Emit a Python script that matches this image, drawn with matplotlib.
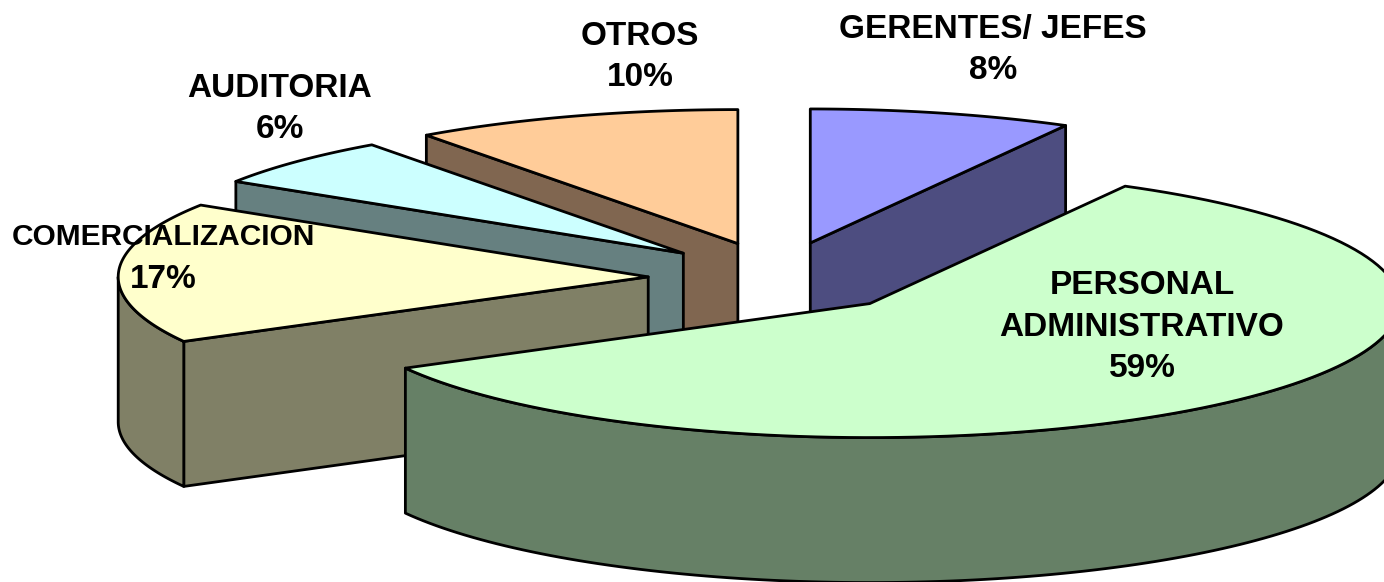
import numpy as np
import matplotlib
matplotlib.use("Agg")
import matplotlib.pyplot as plt
from matplotlib.patches import Polygon

# values in drawing order, back slices first
categories = ["OTROS", "AUDITORIA", "COMERCIALIZACION", "GERENTES/ JEFES", "PERSONAL\nADMINISTRATIVO"]
percents = [10, 6, 17, 8, 59]
# clockwise order of the pie starting at twelve o'clock
pie_order = [3, 4, 2, 1, 0]
top_colors = ["#FFCC99", "#CCFFFF", "#FFFFCC", "#9999FF", "#CCFFCC"]
side_colors = ["#806650", "#668080", "#808066", "#4D4D80", "#668066"]

# pie geometry in pixels
CX, CY = 778, 278
RX, RY = 530, 134
DEPTH = 145
EXPLODE_X = 0.245
EXPLODE_Y = 0.27

plt.rcParams['font.family'] = ['Liberation Sans', 'DejaVu Sans']

fig = plt.figure(figsize=(13.84, 5.82), dpi=100)
ax = fig.add_axes([0, 0, 1, 1])
ax.set_xlim(0, 1384)
ax.set_ylim(582, 0)
ax.axis('off')

# angles measured clockwise from the top
starts = {}
a = 0.0
for i in pie_order:
    starts[i] = a
    a += percents[i] * 3.6


def rim(apex, a0, a1):
    t = np.radians(np.linspace(a0, a1, 120))
    return np.column_stack([apex[0] + RX * np.sin(t), apex[1] - RY * np.cos(t)])


def add(pts, color, z):
    ax.add_patch(Polygon(pts, closed=True, facecolor=color, edgecolor='black',
                         linewidth=2, joinstyle='round', zorder=z))


for i in range(len(percents)):
    a0 = starts[i]
    a1 = a0 + percents[i] * 3.6
    mid = np.radians((a0 + a1) / 2)
    apex = (CX + EXPLODE_X * RX * np.sin(mid), CY - EXPLODE_Y * RY * np.cos(mid))
    z = i * 10 + 1

    # cut faces, only those turned to the viewer
    edges = []
    if a0 >= 180:
        edges.append(a0)
    if a1 <= 180:
        edges.append(a1)
    for edge in edges:
        p = rim(apex, edge, edge)[0]
        face = [apex, p, (p[0], p[1] + DEPTH), (apex[0], apex[1] + DEPTH)]
        add(face, side_colors[i], z)

    # outer wall, front part only
    v0, v1 = max(a0, 90), min(a1, 270)
    if v0 < v1:
        r = rim(apex, v0, v1)
        add(np.vstack([r, (r + [0, DEPTH])[::-1]]), side_colors[i], z + 1)

    add(np.vstack([[apex], rim(apex, a0, a1)]), top_colors[i], z + 2)

style = dict(ha='center', va='center', fontsize=24, fontweight='bold', color='black',
             linespacing=1.45, zorder=100)
ax.text(993, 50, f"{categories[3]}\n{percents[3]}%", **style)
ax.text(640, 57, f"{categories[0]}\n{percents[0]}%", **style)
ax.text(280, 109, f"{categories[1]}\n{percents[1]}%", **style)
ax.text(1142, 327, f"{categories[4]}\n{percents[4]}%", **style)
ax.text(163, 237, categories[2], ha='center', va='center', fontsize=21.5,
        fontweight='bold', color='black', zorder=100)
ax.text(163, 280, f"{percents[2]}%", **style)

fig.savefig("out.png", dpi=100)
